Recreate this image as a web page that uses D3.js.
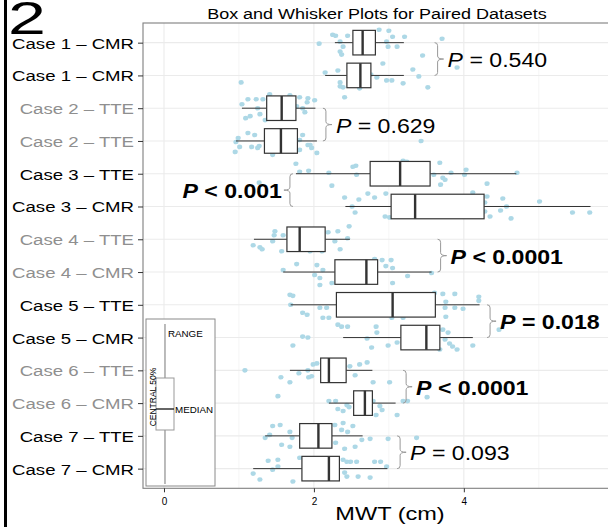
<!DOCTYPE html>
<html><head><meta charset="utf-8">
<script src="https://cdn.jsdelivr.net/npm/d3@7"></script>
<style>body{margin:0;background:#fff}svg{display:block}</style>
</head><body>
<script>
// ---------- data ----------
const labels = ["Case 1 – CMR","Case 1 – CMR","Case 2 – TTE","Case 2 – TTE","Case 3 – TTE","Case 3 – CMR",
  "Case 4 – TTE","Case 4 – CMR","Case 5 – TTE","Case 5 – CMR","Case 6 – TTE","Case 6 – CMR","Case 7 – TTE","Case 7 – CMR"];
const labelGroup = ["odd","odd","even","even","odd","odd","even","even","odd","odd","even","even","odd","odd"];
const whiskerLow  = [2.28,2.15,1.04,0.96,1.76,2.42,1.20,1.59,1.69,2.39,1.68,2.20,1.35,1.19];
const q1          = [2.52,2.44,1.37,1.34,2.75,3.03,1.64,2.28,2.30,3.16,2.09,2.53,1.81,1.84];
const median      = [2.65,2.62,1.57,1.56,3.15,3.35,1.81,2.70,3.05,3.50,2.20,2.68,2.06,2.20];
const q3          = [2.82,2.76,1.76,1.78,3.55,4.27,2.15,2.85,3.62,3.68,2.43,2.78,2.24,2.34];
const whiskerHigh = [3.20,3.20,2.02,2.04,4.70,5.69,2.48,3.57,4.21,4.12,2.78,3.09,2.65,2.98];

// raw observations (MWT, cm) per row, and their vertical jitter (in 1/33 of a row)
const obsValues = [
  [2.07,2.25,2.29,2.35,2.35,2.37,2.39,2.45,2.87,3.00,2.97,2.99,3.11,3.21,3.71,3.45,3.05],
  [2.15,2.32,2.35,2.35,2.41,2.39,2.61,2.76,2.84,2.92,2.97,3.04,3.19,3.32,3.40,3.52,3.91,2.51],
  [1.03,1.12,1.23,1.32,1.41,1.68,1.81,1.92,2.01,1.91,1.04,1.25,1.15,1.09,1.28,1.85,1.88,1.77,1.35],
  [0.99,0.96,1.12,1.21,1.17,1.27,0.95,1.81,1.92,1.97,1.81,2.04,1.85,1.45,3.43,1.01,1.25,1.95,1.61,1.41],
  [1.27,1.76,1.81,1.93,2.20,2.24,2.52,2.56,2.57,3.19,3.24,3.68,3.60,3.72,3.75,3.69,3.83,4.03,4.01,4.31,4.71],
  [2.41,2.60,2.72,2.81,2.96,2.51,2.55,2.95,3.01,4.12,4.31,4.28,4.28,4.35,4.52,4.57,4.49,4.63,5.01,5.45,5.68],
  [1.19,1.28,1.31,1.45,1.47,1.48,1.59,1.57,2.11,2.19,2.32,2.47,2.28,2.35,2.45,1.81,1.95],
  [1.59,1.77,2.01,2.04,2.08,2.08,2.12,2.24,2.81,2.91,3.03,2.96,3.05,3.25,3.05,3.57,2.61],
  [1.68,1.72,1.69,1.85,1.91,2.12,2.20,2.08,2.17,3.04,3.19,3.72,3.76,3.75,3.76,3.88,3.88,3.99,4.20,4.20,3.61],
  [1.72,1.85,1.92,2.32,2.37,2.45,2.71,2.77,2.83,2.84,2.99,3.11,3.68,3.72,3.75,3.79,3.81,3.85,3.91,4.12,4.47],
  [1.08,1.56,1.68,1.80,1.92,1.93,1.99,2.04,1.97,2.48,2.55,2.61,2.71,2.79,3.01,2.21,2.32],
  [1.52,2.20,2.29,2.32,2.39,2.44,2.47,2.79,2.88,2.91,2.83,3.11,3.19,3.25,3.51,2.61],
  [1.35,1.41,1.45,1.55,1.57,1.68,1.71,1.68,2.28,2.39,2.52,2.37,2.45,2.29,2.41,2.55,2.64,2.75,2.99,3.37,2.11],
  [1.19,1.28,1.39,1.45,1.52,1.52,1.72,1.81,2.29,2.39,2.44,2.49,2.57,2.41,2.44,2.59,2.75,2.81,2.89,2.97]
];
const obsJitter = [
  [1,-8,-7,-1,9,12,4,-7,-13,-12,-1,4,4,-6,-4,13,-6],
  [-3,-5,7,11,22,12,13,-1,2,-12,5,5,8,-6,1,12,-8,4],
  [-26,-9,-9,-9,-14,-13,-11,-10,-8,-6,-4,0,8,10,6,0,4,-2,12],
  [-3,1,-8,-6,6,5,11,-1,4,7,9,12,-6,14,0,6,7,4,-2,9],
  [9,-10,-2,-3,-1,12,-7,-8,1,-13,-12,-11,1,4,6,11,-1,-4,1,10,-1],
  [-9,-7,-13,-9,-13,0,6,10,11,-14,-10,-4,5,10,-8,0,4,12,-5,6,6],
  [6,8,10,2,-4,-8,-4,12,12,-7,-8,-13,2,10,-1,5,12],
  [-2,-8,3,-7,6,13,-2,11,-13,-12,-12,-6,-4,4,11,1,-5],
  [-10,-9,0,8,10,13,13,3,3,13,13,-11,-3,3,12,-11,3,4,-8,-4,-12],
  [8,-1,0,-13,-11,-11,1,10,-11,-5,8,5,12,-8,2,-5,6,9,12,8,-8],
  [0,7,12,3,0,7,-6,-7,6,-4,5,-6,-8,12,12,-10,8],
  [-7,-2,-2,6,8,2,4,-2,3,7,12,12,-2,-2,-6,10],
  [2,-1,-10,-11,9,-4,2,11,-11,-13,-10,-6,-4,7,13,11,4,3,3,2,1],
  [5,11,-8,1,-9,-2,13,-11,1,-9,-7,-7,-7,4,8,8,9,-7,-7,-2]
];

// paired comparisons
const pOperator = ["=","=","<","<","=","<","="];
const pNumber   = ["0.540","0.629","0.001","0.0001","0.018","0.0001","0.093"];
const pSignificant = [false,false,true,true,true,true,false];
const braceSide = ["right","right","left","right","right","right","right"];
const braceAt   = [3.61,2.12,1.64,3.65,4.31,3.19,3.11];   // MWT value where the brace sits

const xTicks = [0,2,4];
const xMajorGrid = [0,2,4,6];
const xMinorGrid = [1,3,5];

// ---------- layout ----------
const W = 608, H = 527;
const font = "'Liberation Sans', Arial, Helvetica, sans-serif";
const P = {left:143, top:23, right:640, bottom:488.3};

const svg = d3.select("body").append("svg").attr("width",W).attr("height",H)
  .style("font-family",font);
svg.append("rect").attr("width",W).attr("height",H).attr("fill","#fff");

const x = d3.scaleLinear().domain([-0.28, 6.35]).range([P.left, P.right]);
const rows = d3.range(labels.length);
const y = d3.scalePoint().domain(rows).range([P.top, P.bottom]).padding(0.6);
const step = y.step();

svg.append("defs").append("clipPath").attr("id","pc")
  .append("rect").attr("x",P.left).attr("y",P.top).attr("width",P.right-P.left).attr("height",P.bottom-P.top);

const plot = svg.append("g").attr("clip-path","url(#pc)");

// grid
plot.selectAll(".gmin").data(xMinorGrid).join("line")
  .attr("x1",d=>x(d)).attr("x2",d=>x(d)).attr("y1",P.top).attr("y2",P.bottom)
  .attr("stroke","#f2f2f2").attr("stroke-width",0.8);
plot.selectAll(".gmaj").data(xMajorGrid).join("line")
  .attr("x1",d=>x(d)).attr("x2",d=>x(d)).attr("y1",P.top).attr("y2",P.bottom)
  .attr("stroke","#ebebeb").attr("stroke-width",1.1);
plot.selectAll(".gy").data(rows).join("line")
  .attr("x1",P.left).attr("x2",P.right).attr("y1",d=>y(d)).attr("y2",d=>y(d))
  .attr("stroke","#ebebeb").attr("stroke-width",1.1);

// points
const pts = [];
rows.forEach(i => obsValues[i].forEach((v,j) => pts.push({v, y: y(i) + obsJitter[i][j]/33*step})));
plot.selectAll(".pt").data(pts).join("ellipse")
  .attr("cx",d=>x(d.v)).attr("cy",d=>d.y).attr("rx",2.6).attr("ry",2.3)
  .attr("fill","#add8e6");

// boxes
const bh = step*0.75;
const bx = plot.selectAll(".box").data(rows).join("g");
bx.append("line").attr("x1",i=>x(whiskerLow[i])).attr("x2",i=>x(q1[i]))
  .attr("y1",i=>y(i)).attr("y2",i=>y(i)).attr("stroke","#333").attr("stroke-width",1);
bx.append("line").attr("x1",i=>x(q3[i])).attr("x2",i=>x(whiskerHigh[i]))
  .attr("y1",i=>y(i)).attr("y2",i=>y(i)).attr("stroke","#333").attr("stroke-width",1);
bx.append("rect").attr("x",i=>x(q1[i])).attr("width",i=>x(q3[i])-x(q1[i]))
  .attr("y",i=>y(i)-bh/2).attr("height",bh).attr("fill","#fff").attr("stroke","#333").attr("stroke-width",1.2);
bx.append("line").attr("x1",i=>x(median[i])).attr("x2",i=>x(median[i]))
  .attr("y1",i=>y(i)-bh/2).attr("y2",i=>y(i)+bh/2).attr("stroke","#333").attr("stroke-width",2.4);

// panel border
svg.append("rect").attr("x",P.left).attr("y",P.top).attr("width",P.right-P.left).attr("height",P.bottom-P.top)
  .attr("fill","none").attr("stroke","#7f7f7f").attr("stroke-width",1.1);

// braces + p values
function bracePath(x0, y1, y2, dir){
  const w = 9*dir, hk = 3*dir, ym=(y1+y2)/2, r=3;
  const xv = x0+hk;
  return `M${x0},${y1} Q${xv},${y1} ${xv},${y1+r} L${xv},${ym-r} Q${xv},${ym} ${x0+w},${ym} Q${xv},${ym} ${xv},${ym+r} L${xv},${y2-r} Q${xv},${y2} ${x0},${y2}`;
}
pNumber.forEach((num,k) => {
  const ya = y(2*k), yb = y(2*k+1), ym = (ya+yb)/2;
  const dir = braceSide[k]==="right" ? 1 : -1;
  const x0 = dir===1 ? x(braceAt[k]) : x(braceAt[k]) + 6;
  svg.append("path").attr("d",bracePath(x0, ya, yb, dir))
    .attr("fill","none").attr("stroke","#999").attr("stroke-width",1);
  const tx = dir===1 ? x0 + 13 : x0 - 11;
  const t = svg.append("text")
    .attr("transform",`translate(${tx},${ym+8}) scale(1.1,1)`)
    .attr("text-anchor", dir===1 ? "start" : "end")
    .attr("font-size",21).attr("font-weight", pSignificant[k] ? "bold" : "normal").attr("fill","#000");
  t.append("tspan").attr("font-style","italic").text("P");
  t.append("tspan").text(` ${pOperator[k]} ${num}`);
});

// y axis
const yAx = svg.append("g").attr("transform",`translate(${P.left},0)`)
  .call(d3.axisLeft(y).tickSize(5).tickFormat(i=>labels[i]));
yAx.select(".domain").remove();
yAx.selectAll(".tick line").attr("stroke","#333");
yAx.selectAll(".tick text")
  .attr("x",null).attr("dy",null)
  .attr("transform","translate(-9,5.5) scale(1.2,1)")
  .attr("font-size",15.5).attr("font-family",font)
  .attr("fill",i=>labelGroup[i]==="odd" ? "#000" : "#8f8f8f");

// x axis
const xAx = svg.append("g").attr("transform",`translate(0,${P.bottom})`)
  .call(d3.axisBottom(x).tickValues(xTicks).tickSize(4).tickFormat(d3.format("d")));
xAx.select(".domain").remove();
xAx.selectAll(".tick line").attr("stroke","#333");
xAx.selectAll(".tick text").attr("font-size",10).attr("font-family",font).attr("fill","#000").attr("dy","0.95em");

// titles
svg.append("text").attr("transform","translate(377,19) scale(1.2,1)").attr("text-anchor","middle")
  .attr("font-size",15).attr("fill","#000").text("Box and Whisker Plots for Paired Datasets");
svg.append("text").attr("transform","translate(390,520) scale(1.24,1)").attr("text-anchor","middle")
  .attr("font-size",19).attr("fill","#000").text("MWT (cm)");

// panel letter and side rule
svg.append("rect").attr("x",4).attr("y",0).attr("width",3).attr("height",H).attr("fill","#000");
svg.append("text").attr("transform","translate(8,34) scale(1.45,1)").attr("font-size",47).attr("fill","#000").text("2");

// inset legend
const L = {x:146, y:319, w:69, h:167};
const lg = svg.append("g");
lg.append("rect").attr("x",L.x).attr("y",L.y).attr("width",L.w).attr("height",L.h)
  .attr("fill","#fff").attr("stroke","#8a8a8a").attr("stroke-width",1);
const lx = x(0)+1;
lg.append("line").attr("x1",lx).attr("x2",lx).attr("y1",324).attr("y2",484).attr("stroke","#777").attr("stroke-width",1);
lg.append("rect").attr("x",156).attr("y",378).attr("width",18).attr("height",52)
  .attr("fill","#fff").attr("stroke","#999").attr("stroke-width",1);
lg.append("line").attr("x1",156).attr("x2",174).attr("y1",409).attr("y2",409).attr("stroke","#333").attr("stroke-width",1.5);
lg.append("text").attr("transform","translate(168,337) scale(1.15,1)").attr("font-size",8.5).attr("fill","#000").text("RANGE");
lg.append("text").attr("transform","translate(175,413) scale(1.15,1)").attr("font-size",8.5).attr("fill","#000").text("MEDIAN");
lg.append("text").attr("transform","translate(156,397) rotate(-90) scale(1,1.15)").attr("text-anchor","middle")
  .attr("font-size",8.5).attr("fill","#000").text("CENTRAL 50%");
</script>
</body></html>
